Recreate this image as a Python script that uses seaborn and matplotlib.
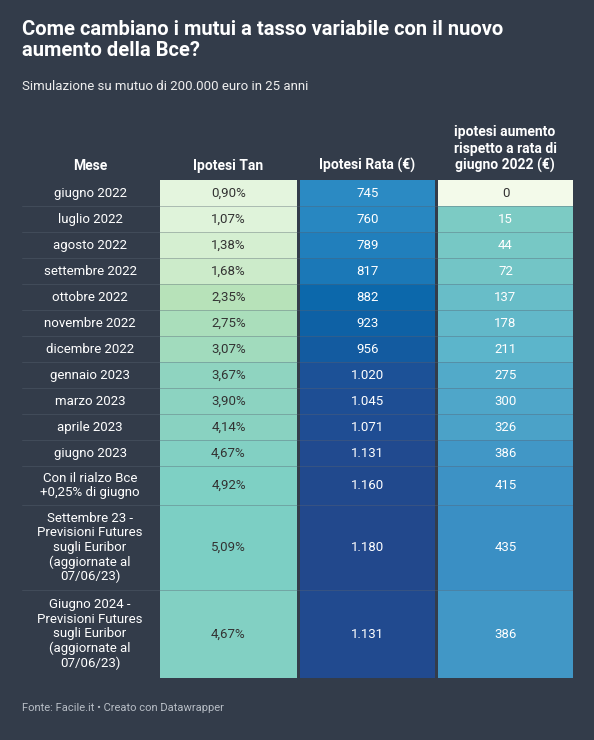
import seaborn as sns
import matplotlib
import matplotlib.pyplot as plt
from matplotlib.colors import LinearSegmentedColormap
import numpy as np

mesi = ['giugno 2022', 'luglio 2022', 'agosto 2022', 'settembre 2022', 'ottobre 2022',
        'novembre 2022', 'dicembre 2022', 'gennaio 2023', 'marzo 2023', 'aprile 2023',
        'giugno 2023', 'Con il rialzo Bce\n+0,25% di giugno',
        'Settembre 23 -\nPrevisioni Futures\nsugli Euribor\n(aggiornate al\n07/06/23)',
        'Giugno 2024 -\nPrevisioni Futures\nsugli Euribor\n(aggiornate al\n07/06/23)']
tan = [0.90, 1.07, 1.38, 1.68, 2.35, 2.75, 3.07, 3.67, 3.90, 4.14, 4.67, 4.92, 5.09, 4.67]
rata = [745, 760, 789, 817, 882, 923, 956, 1020, 1045, 1071, 1131, 1160, 1180, 1131]
aumento = [0, 15, 44, 72, 137, 178, 211, 275, 300, 326, 386, 415, 435, 386]

sns.set_theme(style='white')
plt.rcParams['font.family'] = ['Roboto', 'DejaVu Sans']
bg = '#333c4a'

fig = plt.figure(figsize=(5.94, 7.40), dpi=100, facecolor=bg)
ax = fig.add_axes([22/594, 1-678/740, (573-22)/594, (678-180)/740])
ax.set_facecolor(bg)

heights = [26]*11 + [39, 85, 88]
tops = 180 + np.concatenate([[0], np.cumsum(heights)[:-1]])

cm_tan = LinearSegmentedColormap.from_list('t', ['#e4f5de', '#b8e3b9', '#8fd4c0', '#7ccfc4'])
cm_rata = LinearSegmentedColormap.from_list('r', ['#2b8ac3', '#0a66aa', '#1e4e95', '#22488c'])
cm_aum = LinearSegmentedColormap.from_list('a', ['#7ccbc4', '#5ab3cb', '#3a8fc4'])

def fmt_int(v):
    return f'{v:,}'.replace(',', '.')

cols = [(160, 297), (300, 435), (438, 573)]
for i in range(len(mesi)):
    t, h = tops[i], heights[i]
    yc = t + h/2
    aum_c = '#f3faea' if aumento[i] == 0 else cm_aum((aumento[i]-15)/(435-15))
    specs = [
        (cols[0], cm_tan((tan[i]-0.9)/(5.09-0.9)), f'{tan[i]:.2f}%'.replace('.', ','), '#333333'),
        (cols[1], cm_rata((rata[i]-745)/(1180-745)), fmt_int(rata[i]), 'white'),
        (cols[2], aum_c, str(aumento[i]), '#333333' if aumento[i] == 0 else 'white'),
    ]
    for (x0, x1), c, lab, tc in specs:
        ax.bar(x0, h, width=x1-x0, bottom=t, align='edge', color=c, edgecolor='none')
        ax.text((x0+x1)/2, yc, lab, ha='center', va='center', color=tc, fontsize=9.5)
    ax.text(90, yc, mesi[i], ha='center', va='center', color='white', fontsize=9.5,
            linespacing=1.15)
    if i > 0:
        ax.plot([22, 573], [t, t], color='#5a6472', lw=0.6, alpha=0.45)

ax.set_xlim(22, 573)
ax.set_ylim(678, 180)
ax.axis('off')

hy = 1-173/740
for x, lab in [(90, 'Mese'), (228, 'Ipotesi Tan'), (367, 'Ipotesi Rata (€)'),
               (505, 'ipotesi aumento\nrispetto a rata di\ngiugno 2022 (€)')]:
    fig.text(x/594, hy, lab, ha='center', va='bottom', color='white', fontsize=10,
             fontweight='bold', linespacing=1.2)

fig.text(22/594, 1-20/740, 'Come cambiano i mutui a tasso variabile con il nuovo\naumento della Bce?',
         ha='left', va='top', color='white', fontsize=14.5, fontweight='bold', linespacing=1.15)
fig.text(22/594, 1-80/740, 'Simulazione su mutuo di 200.000 euro in 25 anni',
         ha='left', va='top', color='#eeeeee', fontsize=9.5)
fig.text(22/594, 1-703/740, 'Fonte: Facile.it • Creato con Datawrapper',
         ha='left', va='top', color='#b8bec6', fontsize=8)

fig.savefig('out.png', dpi=100, facecolor=bg)
